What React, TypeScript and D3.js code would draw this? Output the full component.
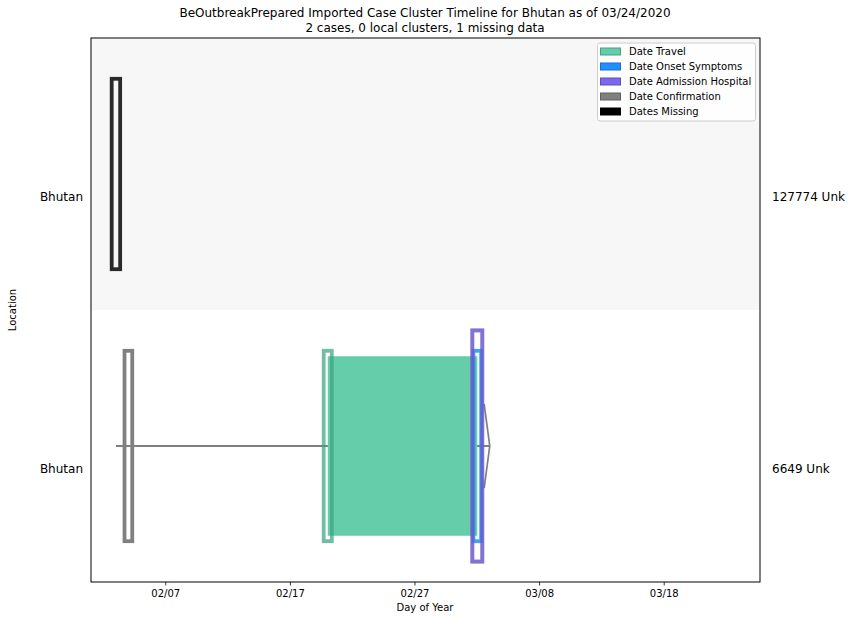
import React from "react";
import * as d3 from "d3";

const W = 855;
const H = 620;

const titleLines = [
  "BeOutbreakPrepared Imported Case Cluster Timeline for Bhutan as of 03/24/2020",
  "2 cases, 0 local clusters, 1 missing data",
];
const rowIds = ["r0", "r1"];
const locations = ["Bhutan", "Bhutan"];
const caseLabels = ["127774 Unk", "6649 Unk"];
const missingDates: (string | null)[] = ["2020-02-03", null];
const travelDates: (string | null)[] = [null, "2020-02-20"];
const onsetDates: (string | null)[] = [null, "2020-03-03"];
const admissionDates: (string | null)[] = [null, "2020-03-03"];
const confirmationDates: (string | null)[] = [null, "2020-02-04"];
const lineStart: (string | null)[] = [null, "2020-02-03"];
const lineEnd: (string | null)[] = [null, "2020-03-04"];
const tickDates = ["2020-02-07", "2020-02-17", "2020-02-27", "2020-03-08", "2020-03-18"];
const legendLabels = [
  "Date Travel",
  "Date Onset Symptoms",
  "Date Admission Hospital",
  "Date Confirmation",
  "Dates Missing",
];
const legendColors = ["#66cdaa", "#1e90ff", "#7b68ee", "#808080", "#000000"];
const legendEdges = ["#4a9e82", "#1a6fc4", "#5e4fc0", "#606060", "#000000"];

const P = (s: string) => new Date(s + "T00:00:00Z");
const FONT = "DejaVu Sans, sans-serif";

export default function App() {
  const left = 91, right = 760, top = 38, bottom = 582;
  const x = d3
    .scaleUtc()
    .domain([new Date(Date.UTC(2020, 1, 1)), new Date(Date.UTC(2020, 2, 25, 16, 30))])
    .range([left, right]);
  const y = d3.scaleBand<string>().domain(rowIds).range([top, bottom]).padding(0);
  const bw = y.bandwidth();
  const day = x(P("2020-02-02")) - x(P("2020-02-01"));
  const fmt = d3.utcFormat("%m/%d");

  const outline = (
    dateStr: string | null,
    row: string,
    color: string,
    hFrac: number,
    wDays: number,
    opacity: number,
    sw: number,
    key: string
  ) => {
    if (!dateStr) return null;
    const cx = x(P(dateStr));
    const cy = (y(row) as number) + bw / 2;
    const w = wDays * day;
    const h = hFrac * bw;
    return (
      <rect
        key={key}
        x={cx - w / 2}
        y={cy - h / 2}
        width={w}
        height={h}
        fill="none"
        stroke={color}
        strokeWidth={sw}
        strokeOpacity={opacity}
      />
    );
  };

  return (
    <svg width={W} height={H} style={{ display: "block", position: "absolute", left: 0, top: 0 }}>
      <rect x={0} y={0} width={W} height={H} fill="#ffffff" />
      {titleLines.map((t, i) => (
        <text key={t} x={425} y={17 + i * 15} textAnchor="middle" fontFamily={FONT} fontSize={12} fill="#000">
          {t}
        </text>
      ))}
      <rect x={left} y={y(rowIds[0]) as number} width={right - left} height={bw} fill="#f7f7f7" />

      {rowIds.map((r, i) => {
        const cy = (y(r) as number) + bw / 2;
        const els: React.ReactNode[] = [];
        if (lineStart[i] && lineEnd[i]) {
          const x0 = x(P(lineStart[i] as string));
          const x1 = x(P(lineEnd[i] as string));
          els.push(<line key="ln" x1={x0} x2={x1} y1={cy} y2={cy} stroke="#7f7f7f" strokeWidth={1.9} />);
          els.push(
            <polyline
              key="ar"
              points={`${x1 - 0.45 * day},${cy - 0.155 * bw} ${x1},${cy} ${x1 - 0.45 * day},${cy + 0.155 * bw}`}
              fill="none"
              stroke="#7f7f7f"
              strokeWidth={1.7}
            />
          );
        }
        if (travelDates[i] && onsetDates[i]) {
          const x0 = x(P(travelDates[i] as string));
          const x1 = x(P(onsetDates[i] as string));
          const h = 0.66 * bw;
          els.push(<rect key="tf" x={x0} y={cy - h / 2} width={x1 - x0} height={h} fill="#66cdaa" />);
        }
        els.push(outline(travelDates[i], r, "#3ca37f", 0.7, 0.65, 0.72, 3.8, "to"));
        els.push(outline(confirmationDates[i], r, "#808080", 0.7, 0.62, 1, 3.8, "co"));
        els.push(outline(onsetDates[i], r, "#1e90ff", 0.7, 0.62, 0.85, 3.8, "on"));
        els.push(outline(admissionDates[i], r, "#6a5acd", 0.85, 0.8, 0.85, 4, "ad"));
        els.push(outline(missingDates[i], r, "#000000", 0.7, 0.68, 0.83, 3.8, "mi"));
        return <g key={r}>{els}</g>;
      })}

      <rect x={left} y={top} width={right - left} height={bottom - top} fill="none" stroke="#000" strokeWidth={1} />

      {tickDates.map((t) => {
        const tx = x(P(t));
        return (
          <g key={t}>
            <line x1={tx} x2={tx} y1={bottom} y2={bottom + 3.5} stroke="#000" strokeWidth={0.8} />
            <text x={tx} y={bottom + 15} textAnchor="middle" fontFamily={FONT} fontSize={10} fill="#000">
              {fmt(P(t))}
            </text>
          </g>
        );
      })}
      <text x={425} y={611} textAnchor="middle" fontFamily={FONT} fontSize={10} fill="#000">
        Day of Year
      </text>

      {rowIds.map((r, i) => {
        const ly = (y(r) as number) + bw / 2 + 23;
        return (
          <g key={"yl" + r}>
            <text x={83} y={ly + 4} textAnchor="end" fontFamily={FONT} fontSize={12} fill="#000">
              {locations[i]}
            </text>
            <text x={772} y={ly + 4} textAnchor="start" fontFamily={FONT} fontSize={12} fill="#000">
              {caseLabels[i]}
            </text>
          </g>
        );
      })}
      <text
        transform={`translate(15.5,${(top + bottom) / 2}) rotate(-90)`}
        textAnchor="middle"
        fontFamily={FONT}
        fontSize={10}
        fill="#000"
      >
        Location
      </text>

      <g>
        <rect x={597.5} y={43} width={158} height={78} rx={2.5} fill="#ffffff" fillOpacity={0.8} stroke="#cccccc" strokeWidth={1} />
        {legendLabels.map((l, i) => (
          <g key={l}>
            <rect x={600.5} y={48 + i * 15} width={20} height={7} fill={legendColors[i]} stroke={legendEdges[i]} strokeWidth={1} />
            <text x={629} y={55 + i * 15} fontFamily={FONT} fontSize={10} fill="#000">
              {l}
            </text>
          </g>
        ))}
      </g>
    </svg>
  );
}
